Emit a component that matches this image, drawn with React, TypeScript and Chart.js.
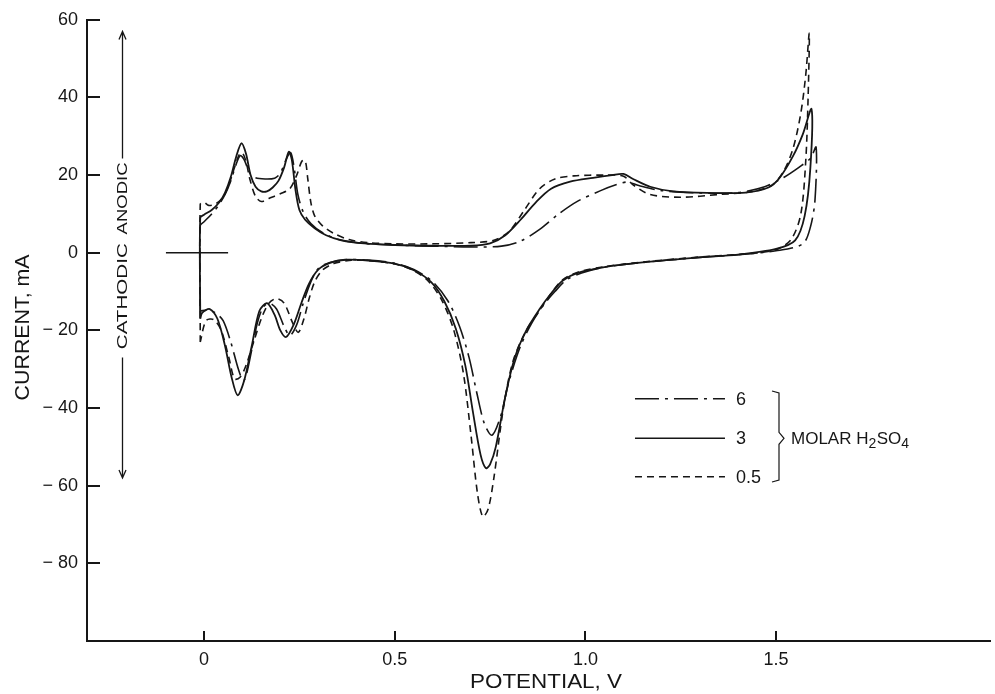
import React, { useEffect, useRef } from "react";
import { Chart, registerables } from "chart.js";

Chart.register(...registerables);

// ---- axis ticks ----
const xTickValues = [0, 0.5, 1.0, 1.5];
const yTickValues = [60, 40, 20, 0, -20, -40, -60, -80];

// ---- 0.5 M H2SO4 (dashed): potential (V) and current (mA), one full sweep loop ----
const v05 = [
  -0.01, -0.01, 0.0, 0.012, 0.03, 0.05, 0.065, 0.08, 0.092, 0.1,
  0.11, 0.12, 0.135, 0.15, 0.17, 0.2, 0.225, 0.243, 0.256, 0.265,
  0.272, 0.28, 0.29, 0.31, 0.34, 0.38, 0.43, 0.5, 0.6, 0.7,
  0.76, 0.8, 0.84, 0.88, 0.92, 0.97, 1.05, 1.1, 1.125, 1.17,
  1.25, 1.35, 1.44, 1.49, 1.52, 1.545, 1.565, 1.578, 1.587,
  1.584, 1.578, 1.565, 1.54, 1.5, 1.42, 1.3, 1.15, 1.05, 0.98,
  0.94, 0.91, 0.88, 0.845, 0.81, 0.785, 0.76, 0.745, 0.731, 0.717,
  0.7, 0.68, 0.655, 0.625, 0.59, 0.55, 0.5, 0.43, 0.38, 0.34,
  0.31, 0.29, 0.275, 0.262, 0.247, 0.232, 0.21, 0.19, 0.17, 0.15,
  0.13, 0.11, 0.095, 0.08, 0.065, 0.045, 0.025, 0.005, -0.01,
];
const i05 = [
  -23, 12.5, 13, 12.2, 12.6, 14.3, 17.5, 22, 25.2, 25.8,
  23.5, 19, 14.5, 13.2, 14, 15.2, 16.5, 20, 23.5, 23.8,
  19, 13, 9.5, 7, 5, 3.4, 2.6, 2.3, 2.3, 2.6,
  3.2, 5.5, 11, 16.5, 19, 19.8, 20, 19.7, 17.5, 15,
  14.3, 15, 15.8, 17.5, 21, 27, 36, 46, 56.5,
  40, 24, 10, 3.5, 0.8, -0.3, -1.1, -2.4, -3.6, -5,
  -7, -10.5, -14.8, -20, -28, -40, -58, -66, -68, -62,
  -47, -31, -20, -12.5, -7.5, -4.6, -2.9, -2, -2, -2.8,
  -4.5, -7.5, -12, -17, -20.5, -18, -13, -11.8, -13, -17,
  -23, -29, -32, -32.5, -27, -20, -17.2, -17.5, -23,
];

// ---- 3 M H2SO4 (solid) ----
const v3 = [
  -0.01, -0.01, 0.0, 0.02, 0.04, 0.055, 0.07, 0.085, 0.098, 0.11,
  0.122, 0.135, 0.15, 0.165, 0.18, 0.195, 0.21, 0.222, 0.23, 0.24,
  0.25, 0.265, 0.29, 0.32, 0.36, 0.42, 0.5, 0.6, 0.7, 0.75,
  0.79, 0.83, 0.87, 0.91, 0.96, 1.02, 1.07, 1.1, 1.125, 1.17,
  1.23, 1.32, 1.42, 1.48, 1.51, 1.545, 1.57, 1.593,
  1.59, 1.575, 1.55, 1.5, 1.4, 1.3, 1.15, 1.05, 0.98, 0.94,
  0.91, 0.88, 0.845, 0.815, 0.79, 0.765, 0.75, 0.739, 0.725, 0.705,
  0.685, 0.66, 0.63, 0.595, 0.55, 0.5, 0.43, 0.37, 0.33, 0.3,
  0.275, 0.255, 0.235, 0.215, 0.2, 0.185, 0.165, 0.145, 0.125, 0.105,
  0.088, 0.072, 0.055, 0.035, 0.015, -0.005, -0.01,
];
const i3 = [
  -17, 9, 9.8, 11, 13, 15.5, 19.5, 25, 28.2, 25.5,
  20, 17, 15.8, 15.8, 16.8, 18.5, 22, 26, 24, 16,
  11, 8.5, 6.3, 4.5, 3.2, 2.4, 2, 1.8, 1.8, 2.4,
  4.5, 8.5, 13, 16.5, 18.3, 19.3, 20, 20.3, 19, 17,
  15.8, 15.4, 15.5, 16.8, 19.4, 25, 30.5, 37,
  22, 9.5, 3.2, 1, -0.5, -1.2, -2.5, -3.7, -5.2, -7.2,
  -10.5, -14.5, -20, -27, -37, -50, -54.5, -55.5, -52, -41,
  -29, -19.5, -12.5, -7.5, -4.5, -2.8, -2, -1.8, -2.6, -4.3,
  -8, -13, -18.5, -21.7, -20, -16, -13, -15, -24, -33,
  -36.7, -32, -24, -17, -14.5, -15.5, -17,
];

// ---- 6 M H2SO4 (dash-dot) ----
const v6 = [
  -0.01, -0.01, 0.0, 0.02, 0.04, 0.055, 0.07, 0.083, 0.095, 0.105,
  0.12, 0.135, 0.16, 0.185, 0.2, 0.215, 0.227, 0.236, 0.246, 0.26,
  0.28, 0.31, 0.35, 0.42, 0.5, 0.6, 0.7, 0.78, 0.83, 0.88,
  0.93, 0.98, 1.04, 1.08, 1.11, 1.14, 1.2, 1.3, 1.4, 1.47,
  1.52, 1.56, 1.59, 1.605,
  1.602, 1.59, 1.57, 1.5, 1.4, 1.3, 1.15, 1.05, 0.99, 0.95,
  0.92, 0.89, 0.86, 0.83, 0.8, 0.778, 0.755, 0.735, 0.715, 0.695,
  0.67, 0.64, 0.6, 0.55, 0.5, 0.43, 0.37, 0.33, 0.3, 0.28,
  0.26, 0.243, 0.225, 0.21, 0.19, 0.172, 0.155, 0.14, 0.125, 0.112,
  0.103, 0.09, 0.07, 0.05, 0.03, 0.01, -0.01,
];
const i6 = [
  -15, 7, 8, 10, 12.5, 15, 18.5, 22.5, 25, 24,
  20.5, 19.3, 19, 19.2, 20.5, 24, 25.8, 22, 15, 10.5,
  7.5, 5.2, 3.5, 2.4, 2, 1.7, 1.5, 1.7, 3, 6,
  10, 13.3, 16, 17.5, 18.2, 17.3, 16, 15.4, 15.5, 17,
  19.4, 22, 24.3, 27.2,
  13.5, 6.6, 2.3, 0.5, -0.5, -1.2, -2.5, -3.7, -5.2, -7,
  -10, -13.5, -18, -24, -33, -42, -47, -44, -36, -27,
  -19, -12.5, -7.5, -4.3, -2.7, -1.9, -1.8, -2.5, -4, -7.5,
  -13, -18.5, -21.3, -19, -14.5, -13, -14, -18, -25, -31,
  -33, -30, -23, -17.5, -15.5, -14.8, -15,
];

// ---- zero-current reference mark ----
const crossV = [-0.1, 0.063];
const crossI = [0, 0];

// ---- legend ----
const legendLabels = ["6", "3", "0.5"];

const FONT = "'Liberation Sans', Arial, Helvetica, sans-serif";
const INK = "#161616";

const pts = (vs: number[], is: number[]) => vs.map((v, k) => ({ x: v, y: is[k] }));

function fitText(
  ctx: CanvasRenderingContext2D,
  text: string,
  cx: number,
  cy: number,
  width: number,
  font: string,
  rot = 0
) {
  ctx.save();
  ctx.font = font;
  ctx.translate(cx, cy);
  if (rot) ctx.rotate(rot);
  const w = ctx.measureText(text).width;
  ctx.scale(width / w, 1);
  ctx.textAlign = "center";
  ctx.textBaseline = "middle";
  ctx.fillText(text, 0, 0);
  ctx.restore();
}

const overlay = {
  id: "overlay",
  afterDraw(chart: any) {
    const { ctx } = chart;
    const xs = chart.scales.x;
    const ys = chart.scales.y;
    const X = (v: number) => xs.getPixelForValue(v);
    const Y = (v: number) => ys.getPixelForValue(v);
    ctx.save();
    ctx.strokeStyle = INK;
    ctx.fillStyle = INK;
    ctx.lineCap = "butt";

    // inner tick marks
    ctx.lineWidth = 2;
    ctx.beginPath();
    yTickValues.forEach((v) => {
      const py = Math.round(Y(v));
      ctx.moveTo(xs.left, py);
      ctx.lineTo(xs.left + 13, py);
    });
    xTickValues.forEach((v) => {
      const px = Math.round(X(v));
      ctx.moveTo(px, ys.bottom);
      ctx.lineTo(px, ys.bottom - 10);
    });
    ctx.stroke();

    // axis titles
    fitText(ctx, "CURRENT, mA", 23, (ys.top + ys.bottom) / 2 - 3, 146, `21px ${FONT}`, -Math.PI / 2);
    fitText(ctx, "POTENTIAL, V", 546, 682, 152, `21px ${FONT}`);

    // anodic / cathodic arrows
    const ax = Math.round(X(-0.215)) + 0.5;
    ctx.lineWidth = 1.3;
    ctx.beginPath();
    ctx.moveTo(ax, Y(57));
    ctx.lineTo(ax, Y(24.3));
    ctx.moveTo(ax, Y(-27));
    ctx.lineTo(ax, Y(-58));
    ctx.moveTo(ax - 3.5, Y(57) + 8);
    ctx.lineTo(ax, Y(57));
    ctx.lineTo(ax + 3.5, Y(57) + 8);
    ctx.moveTo(ax - 3.5, Y(-58) - 8);
    ctx.lineTo(ax, Y(-58));
    ctx.lineTo(ax + 3.5, Y(-58) - 8);
    ctx.stroke();
    fitText(ctx, "ANODIC", ax, Y(14), 72, `15px ${FONT}`, -Math.PI / 2);
    fitText(ctx, "CATHODIC", ax, Y(-11.2), 106, `15px ${FONT}`, -Math.PI / 2);

    // legend samples
    const rows = [-37.6, -47.8, -57.7];
    const dashes = [[24, 6, 3, 6], [], [7, 5]];
    ctx.lineWidth = 1.5;
    rows.forEach((r, k) => {
      ctx.setLineDash(dashes[k]);
      ctx.beginPath();
      ctx.moveTo(X(1.13), Y(r));
      ctx.lineTo(X(1.366), Y(r));
      ctx.stroke();
    });
    ctx.setLineDash([]);
    ctx.font = `18px ${FONT}`;
    ctx.textAlign = "left";
    ctx.textBaseline = "middle";
    legendLabels.forEach((t, k) => {
      ctx.fillText(t, X(1.395), Y(rows[k]) + 1);
    });

    // brace
    const bx = 779;
    const top = 391;
    const bot = 482;
    const mid = Y(rows[1]);
    ctx.lineWidth = 1.2;
    ctx.beginPath();
    ctx.moveTo(772, top);
    ctx.lineTo(bx, top + 2);
    ctx.lineTo(bx, mid - 6);
    ctx.lineTo(bx + 5, mid);
    ctx.lineTo(bx, mid + 6);
    ctx.lineTo(bx, bot - 2);
    ctx.lineTo(772, bot);
    ctx.stroke();

    // MOLAR H2SO4
    const baseY = mid + 1;
    const parts = [
      { t: "MOLAR H", sub: false },
      { t: "2", sub: true },
      { t: "SO", sub: false },
      { t: "4", sub: true },
    ];
    let cx = 791;
    ctx.textAlign = "left";
    parts.forEach((p) => {
      ctx.font = p.sub ? `14px ${FONT}` : `17px ${FONT}`;
      const w = ctx.measureText(p.t).width;
      ctx.fillText(p.t, cx, baseY + (p.sub ? 5 : 0));
      cx += w + (p.sub ? 0.5 : 0);
    });

    ctx.restore();
  },
};

export default function App() {
  const ref = useRef<HTMLCanvasElement | null>(null);

  useEffect(() => {
    if (!ref.current) return;
    const common = {
      showLine: true,
      pointRadius: 0,
      fill: false,
      borderColor: INK,
      borderWidth: 1.6,
      tension: 0.3,
    };
    const chart = new Chart(ref.current, {
      type: "scatter",
      data: {
        datasets: [
          { ...common, label: legendLabels[2], data: pts(v05, i05), borderDash: [7, 5] },
          { ...common, label: legendLabels[1], data: pts(v3, i3), borderWidth: 1.8 },
          { ...common, label: legendLabels[0], data: pts(v6, i6), borderDash: [24, 6, 3, 6] },
          { ...common, label: "zero", data: pts(crossV, crossI), tension: 0, borderWidth: 1.5 },
        ],
      },
      options: {
        responsive: false,
        animation: false,
        events: [],
        layout: { padding: { left: 0, top: 19, right: 5, bottom: 0 } },
        plugins: { legend: { display: false }, tooltip: { enabled: false } },
        scales: {
          x: {
            type: "linear",
            min: -0.307,
            max: 2.061,
            grid: { display: false, drawTicks: false },
            border: { display: true, color: INK, width: 2 },
            afterBuildTicks: (s: any) => {
              s.ticks = xTickValues.map((v) => ({ value: v }));
            },
            afterFit: (s: any) => {
              s.height = 53;
            },
            ticks: {
              autoSkip: false,
              maxRotation: 0,
              padding: 8,
              color: INK,
              font: { family: FONT, size: 18 },
              callback: (v: any) => (Number(v) === 0 ? "0" : Number(v).toFixed(1)),
            },
          },
          y: {
            type: "linear",
            min: -100,
            max: 60,
            grid: { display: false, drawTicks: false },
            border: { display: true, color: INK, width: 2 },
            afterBuildTicks: (s: any) => {
              s.ticks = yTickValues.map((v) => ({ value: v }));
            },
            afterFit: (s: any) => {
              s.width = 87;
            },
            ticks: {
              autoSkip: false,
              padding: 9,
              color: INK,
              font: { family: FONT, size: 18 },
              callback: (v: any) => (Number(v) < 0 ? "\u2212 " + Math.abs(Number(v)) : String(v)),
            },
          },
        },
      },
      plugins: [overlay],
    } as any);
    return () => chart.destroy();
  }, []);

  return (
    <div style={{ position: "absolute", left: 0, top: 0, width: 995, height: 694, background: "#fff" }}>
      <canvas ref={ref} width={995} height={694} style={{ width: 995, height: 694, display: "block" }} />
    </div>
  );
}
